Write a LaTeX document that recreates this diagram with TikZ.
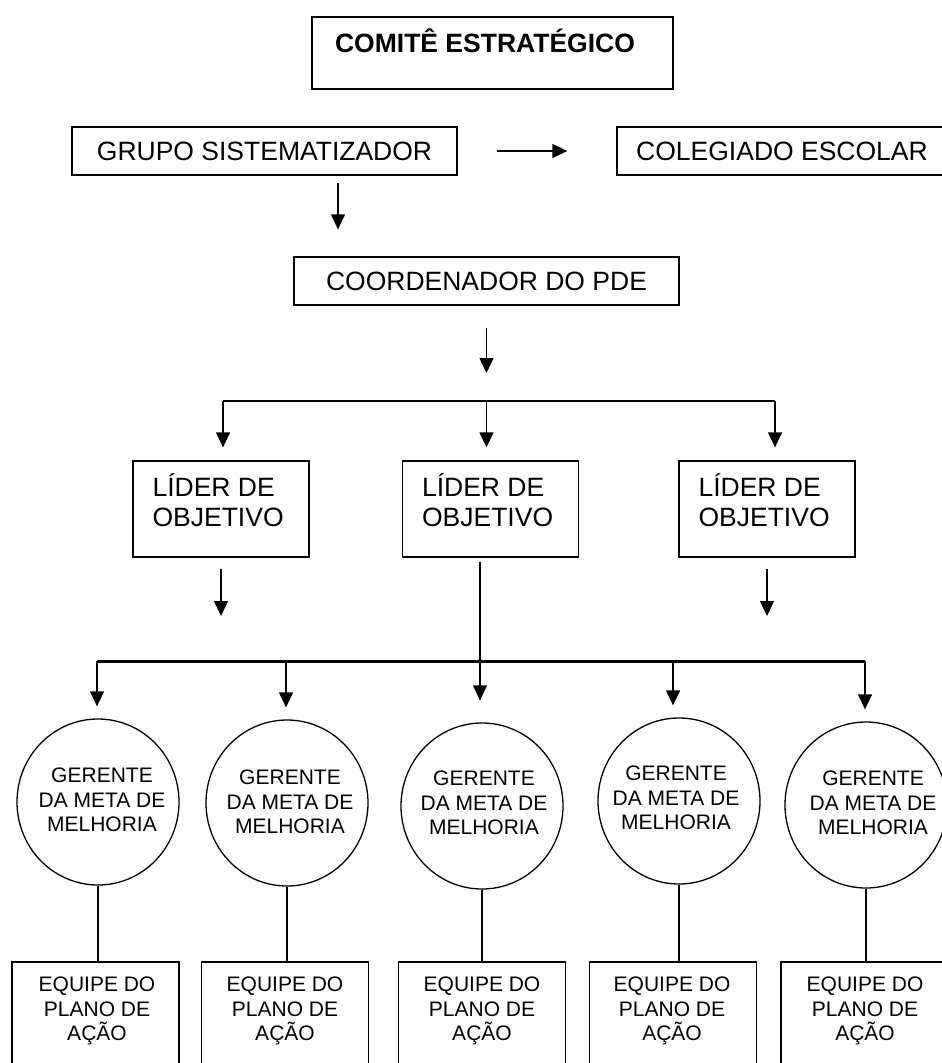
\documentclass[tikz,border=0pt]{standalone}
\usepackage{fontspec}
\setmainfont{Liberation Sans}
\usetikzlibrary{arrows.meta,shapes.geometric}
\newcommand\bigf{\fontsize{26.5}{30}\selectfont}
\newcommand\smallf{\fontsize{21}{24.5}\selectfont}
\tikzset{
 rbox/.style={draw, line width=1.3pt, inner sep=0pt},
 one/.style={font=\bigf, text height=19pt, text depth=0pt, inner sep=0pt},
 ltext/.style={font=\bigf, align=left, inner sep=0pt},
 stext/.style={font=\smallf, align=center, inner sep=0pt},
 oval/.style={draw, ellipse, line width=1.3pt, minimum width=162pt, minimum height=166pt, inner sep=0pt},
 lbox/.style={rbox, minimum width=176pt, minimum height=96pt},
 ebox/.style={rbox, minimum width=167pt, minimum height=114pt},
 arr/.style={line width=1.3pt, -{Triangle[length=15pt,width=14pt]}},
 link/.style={line width=1.3pt},
 busline/.style={line width=#1},
}
\begin{document}
\begin{tikzpicture}[x=1pt,y=1pt]
\useasboundingbox (0,0) rectangle (942,-1063);
\clip (0,0) rectangle (942,-1063);
% top
\node[rbox, minimum width=361pt, minimum height=72pt] (cs) at (492.5,-53) {};
\node[one, font=\bigf\bfseries] (cst) at (485,-43) {COMITÊ ESTRATÉGICO};
\node[rbox, one, minimum width=385pt, minimum height=48pt] (gs) at (264.5,-151) {GRUPO SISTEMATIZADOR};
\node[rbox, one, minimum width=330pt, minimum height=48pt] (ce) at (782,-151) {COLEGIADO ESCOLAR};
\node[rbox, one, minimum width=385pt, minimum height=48pt] (cp) at (486.5,-281) {COORDENADOR DO PDE};
\draw[arr, shorten <=39pt, shorten >=49pt] (gs.east) -- (ce.west);
\draw[arr] ([xshift=73.5pt,yshift=-7pt]gs.south) -- ([xshift=-148.5pt,yshift=27pt]cp.north);
% leaders
\coordinate (t1) at (223,-401);
\coordinate (t2) at (486.5,-401);
\coordinate (t3) at (775,-401);
\draw[arr, shorten <=22pt, shorten >=28pt] (cp.south) -- (t2);
\draw[busline=2.2pt] (t1) -- (t3);
\node[lbox] (l1) at (221,-509) {};
\node[lbox] (l2) at (490.5,-509) {};
\node[lbox] (l3) at (767,-509) {};
\draw[arr, shorten >=13pt] (t1) -- (t1 |- l1.north);
\draw[arr, shorten >=13pt] (t2) -- (t2 |- l2.north);
\draw[arr, shorten >=13pt] (t3) -- (t3 |- l3.north);
\node[ltext, anchor=west] (l1t) at ([xshift=20pt,yshift=9pt]l1.west) {LÍDER DE\\OBJETIVO};
\node[ltext, anchor=west] (l2t) at ([xshift=20pt,yshift=9pt]l2.west) {LÍDER DE\\OBJETIVO};
\node[ltext, anchor=west] (l3t) at ([xshift=20pt,yshift=9pt]l3.west) {LÍDER DE\\OBJETIVO};
% managers
\coordinate (u1) at (97,-661);
\coordinate (u2) at (286,-661);
\coordinate (u3) at (480,-661);
\coordinate (u4) at (673,-661);
\coordinate (u5) at (865,-661);
\draw[busline=3pt] (u1) -- (u5);
\node[oval] (g1) at (98,-802) {};
\node[oval] (g2) at (287,-803) {};
\node[oval] (g3) at (482,-806) {};
\node[oval] (g4) at (679,-801) {};
\node[oval] (g5) at (866,-805) {};
\node[stext] (g1t) at (102,-800) {GERENTE\\DA META DE\\MELHORIA};
\node[stext] (g2t) at (290,-802) {GERENTE\\DA META DE\\MELHORIA};
\node[stext] (g3t) at (484,-803) {GERENTE\\DA META DE\\MELHORIA};
\node[stext] (g4t) at (676,-798) {GERENTE\\DA META DE\\MELHORIA};
\node[stext] (g5t) at (873,-803) {GERENTE\\DA META DE\\MELHORIA};
\draw[arr, shorten <=11pt, shorten >=45pt] (l1.south) -- (l1.south |- u1);
\draw[arr, shorten <=11pt, shorten >=45pt] (l3.south) -- (l3.south |- u5);
\draw[arr, shorten <=4pt, shorten >=22pt] (u3 |- l2.south) -- (u3 |- g3.north);
\draw[arr, shorten >=12pt] (u1) -- (u1 |- g1.north);
\draw[arr, shorten >=12pt] (u2) -- (u2 |- g2.north);
\draw[arr, shorten >=12pt] (u4) -- (u4 |- g4.north);
\draw[arr, shorten >=12pt] (u5) -- (u5 |- g5.north);
% teams
\node[ebox] (e1) at (95.5,-1019) {};
\node[ebox] (e2) at (285,-1019) {};
\node[ebox] (e3) at (482,-1019) {};
\node[ebox] (e4) at (673,-1019) {};
\node[ebox, minimum width=169pt] (e5) at (865.5,-1019) {};
\node[stext] (e1t) at (97,-1011) {EQUIPE DO\\PLANO DE\\AÇÃO};
\node[stext] (e2t) at (285,-1011) {EQUIPE DO\\PLANO DE\\AÇÃO};
\node[stext] (e3t) at (482,-1011) {EQUIPE DO\\PLANO DE\\AÇÃO};
\node[stext] (e4t) at (672,-1011) {EQUIPE DO\\PLANO DE\\AÇÃO};
\node[stext] (e5t) at (865,-1011) {EQUIPE DO\\PLANO DE\\AÇÃO};
\draw[link] (g1.south) -- (g1.south |- e1.north);
\draw[link] (g2.south) -- (g2.south |- e2.north);
\draw[link] (g3.south) -- (g3.south |- e3.north);
\draw[link] (g4.south) -- (g4.south |- e4.north);
\draw[link] (g5.south) -- (g5.south |- e5.north);
\end{tikzpicture}
\end{document}
